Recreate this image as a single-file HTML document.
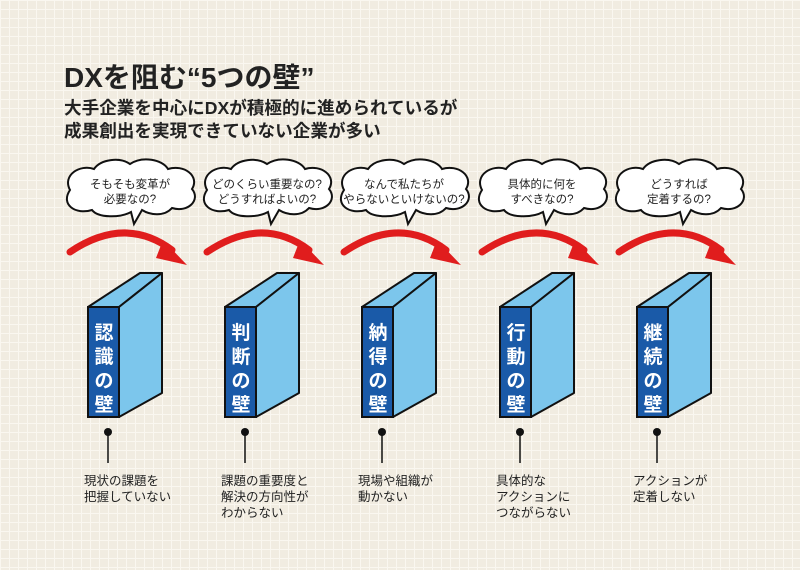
<!DOCTYPE html>
<html><head><meta charset="utf-8"><style>
html,body{margin:0;padding:0}
body{width:800px;height:570px;overflow:hidden;background:#f1ece1;
background-image:linear-gradient(#faf7f0 1px,transparent 1px),linear-gradient(90deg,#faf7f0 1px,transparent 1px);background-size:9px 9px;
font-family:"Liberation Sans","Noto Sans CJK JP",sans-serif}
</style></head><body>
<svg width="800" height="570" xmlns="http://www.w3.org/2000/svg" style="position:absolute;left:0;top:0;font-family:'Liberation Sans','Noto Sans CJK JP',sans-serif">
<defs>
<g id="col">
  <path d="M70,190 C62,175 80,164 94,169 C101,159 120,157 130,164 C142,156 162,159 168,169 C184,164 200,176 192,189 C201,200 188,213 172,208 C164,217 150,215 142,210 L134,224 L131,212 C120,218 98,218 92,210 C76,215 60,205 70,190 Z" fill="#fff" stroke="#111" stroke-width="2"/>
  <path d="M70,252 Q125,215 172,250" fill="none" stroke="#e01d1d" stroke-width="7" stroke-linecap="round"/>
  <path d="M163,240 L187,265 L156,258 Z" fill="#e01d1d"/>
  <path d="M88,307 L140,273 L162,273 L119,307 Z" fill="#7cc6ec" stroke="#111" stroke-width="2" stroke-linejoin="round"/>
  <path d="M119,307 L162,273 L162,393 L119,417 Z" fill="#7cc6ec" stroke="#111" stroke-width="2" stroke-linejoin="round"/>
  <rect x="88" y="307" width="31" height="110" fill="#1a5aa8" stroke="#111" stroke-width="2"/>
  <circle cx="108" cy="432" r="4" fill="#111"/>
  <line x1="108" y1="432" x2="108" y2="463" stroke="#111" stroke-width="1.5"/>
</g>
</defs>
<text x="64" y="87" font-size="28" font-weight="bold" fill="#222">DXを阻む“5つの壁”</text>
<text x="64" y="114" font-size="17.6" font-weight="bold" fill="#222">大手企業を中心にDXが積極的に進められているが</text>
<text x="64" y="137" font-size="17.6" font-weight="bold" fill="#222">成果創出を実現できていない企業が多い</text>
<use href="#col"/>
<use href="#col" x="137"/>
<use href="#col" x="274"/>
<use href="#col" x="412"/>
<use href="#col" x="549"/>
<g font-size="11.5" fill="#222" text-anchor="middle">
<text x="130" y="188">そもそも変革が</text><text x="130" y="203">必要なの?</text>
<text x="267" y="188">どのくらい重要なの?</text><text x="267" y="203">どうすればよいの?</text>
<text x="404" y="188">なんで私たちが</text><text x="404" y="203">やらないといけないの?</text>
<text x="542" y="188">具体的に何を</text><text x="542" y="203">すべきなの?</text>
<text x="679" y="188">どうすれば</text><text x="679" y="203">定着するの?</text>
</g>
<g font-size="19" font-weight="bold" fill="#fff" text-anchor="middle">
<text x="104" y="339">認</text><text x="104" y="363">識</text><text x="104" y="387">の</text><text x="104" y="411">壁</text>
<text x="241" y="339">判</text><text x="241" y="363">断</text><text x="241" y="387">の</text><text x="241" y="411">壁</text>
<text x="378" y="339">納</text><text x="378" y="363">得</text><text x="378" y="387">の</text><text x="378" y="411">壁</text>
<text x="516" y="339">行</text><text x="516" y="363">動</text><text x="516" y="387">の</text><text x="516" y="411">壁</text>
<text x="653" y="339">継</text><text x="653" y="363">続</text><text x="653" y="387">の</text><text x="653" y="411">壁</text>
</g>
<g font-size="12.5" fill="#222">
<text x="84" y="485">現状の課題を</text><text x="84" y="501">把握していない</text>
<text x="221" y="485">課題の重要度と</text><text x="221" y="501">解決の方向性が</text><text x="221" y="517">わからない</text>
<text x="358" y="485">現場や組織が</text><text x="358" y="501">動かない</text>
<text x="496" y="485">具体的な</text><text x="496" y="501">アクションに</text><text x="496" y="517">つながらない</text>
<text x="633" y="485">アクションが</text><text x="633" y="501">定着しない</text>
</g>
</svg>
</body></html>
